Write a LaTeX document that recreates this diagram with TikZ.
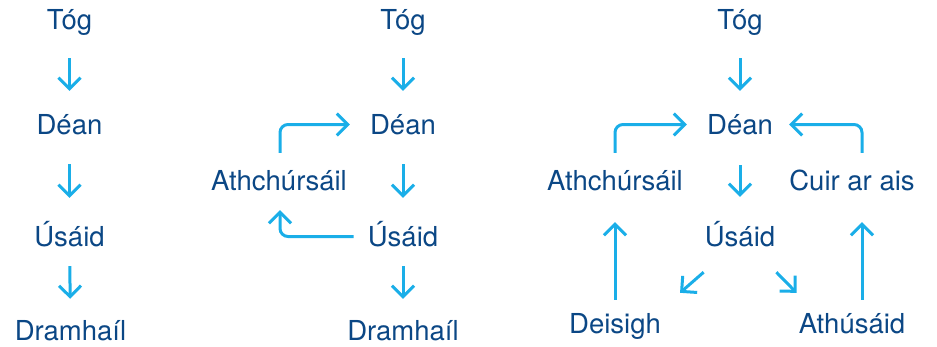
\documentclass[tikz,border=0pt]{standalone}
\usepackage{fontspec}
\setmainfont{TeX Gyre Heros}
\usetikzlibrary{arrows.meta}
\definecolor{wordblue}{HTML}{0B4785}
\definecolor{arrowblue}{HTML}{1AAEE8}

\begin{document}
\begin{tikzpicture}[
    x=1pt, y=-1pt,
    word/.style={text=wordblue, font=\fontsize{27.5}{31}\selectfont, inner sep=0pt, text height=19pt, text depth=0pt, anchor=base},
    flow/.style={-{Straight Barb[length=11pt, width=22pt]}, draw=arrowblue, line width=3pt, rounded corners=8pt},
    gap/.style 2 args={shorten <=#1pt, shorten >=#2pt}
  ]
    \useasboundingbox (0,0) rectangle (937,346);

    % linear
    \node[word] (tog1) at (69.5,29) {Tóg};
    \node[word] (dean1) at (69.5,134) {Déan};
    \node[word] (usaid1) at (69.5,246) {Úsáid};
    \node[word] (dram1) at (70.5,340) {Dramhaíl};

    \draw[flow, gap={29}{24}] (tog1) -- (dean1);
    \draw[flow, gap={30}{29}] (dean1) -- (usaid1);
    \draw[flow, gap={20}{22}] (usaid1) -- (dram1);

    % with recycling
    \node[word] (tog2) at (403,29) {Tóg};
    \node[word] (dean2) at (403,134) {Déan};
    \node[word] (usaid2) at (403,246) {Úsáid};
    \node[word] (dram2) at (403,340) {Dramhaíl};
    \node[word] (ath2) at (279,190) {Athchúrsáil};

    \draw[flow, gap={29}{24}] (tog2) -- (dean2);
    \draw[flow, gap={30}{29}] (dean2) -- (usaid2);
    \draw[flow, gap={20}{22}] (usaid2) -- (dram2);
    \draw[flow, gap={18}{20}] ([xshift=1pt]ath2.north) |- (dean2.west);
    \draw[flow, gap={14}{20}] (usaid2.west) -| ([xshift=1pt]ath2.south);

    % circular
    \node[word] (tog3) at (740,29) {Tóg};
    \node[word] (dean3) at (740,134) {Déan};
    \node[word] (usaid3) at (740,246) {Úsáid};
    \node[word] (ath3) at (615,190) {Athchúrsáil};
    \node[word] (cuir3) at (852,190) {Cuir ar ais};
    \node[word] (deis3) at (615,333) {Deisigh};
    \node[word] (athus3) at (852,333) {Athúsáid};

    \draw[flow, gap={29}{24}] (tog3) -- (dean3);
    \draw[flow, gap={31}{30}] (dean3) -- (usaid3);
    \draw[flow, gap={18}{20}] (ath3.north) |- (dean3.west);
    \draw[flow, gap={18}{16}] ([xshift=10pt]cuir3.north) |- (dean3.east);
    \draw[flow, gap={14}{32}] (deis3.north) -- (ath3.south);
    \draw[flow, gap={14}{32}] ([xshift=10pt]athus3.north) -- ([xshift=10pt]cuir3.south);
    \draw[flow] ([shift={(-1,26)}]usaid3.south west) -- ([shift={(19,-21)}]deis3.north east);
    \draw[flow] ([shift={(1,26)}]usaid3.south east) -- ([shift={(-2,-21)}]athus3.north west);
  \end{tikzpicture}
\end{document}
